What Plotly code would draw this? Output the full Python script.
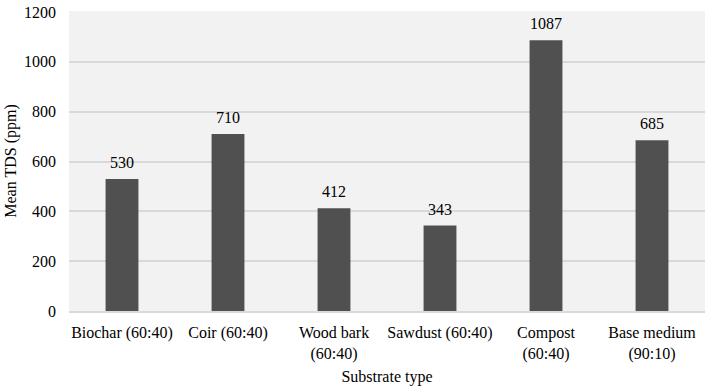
import plotly.graph_objects as go

categories = ["Biochar (60:40)", "Coir (60:40)", "Wood bark<br>(60:40)", "Sawdust (60:40)",
              "Compost<br>(60:40)", "Base medium<br>(90:10)"]
values = [530, 710, 412, 343, 1087, 685]
y_ticks = [0, 200, 400, 600, 800, 1000, 1200]

FONT = "Liberation Serif"

fig = go.Figure()
fig.add_trace(go.Bar(
    x=categories, y=values,
    marker=dict(color="#505050", line=dict(width=0)),
    width=0.31,
))
for c, v in zip(categories, values):
    fig.add_annotation(x=c, y=v, text=str(v), showarrow=False, yanchor="bottom",
                       yshift=6, font=dict(family=FONT, size=16, color="#000000"))

fig.update_layout(
    width=709, height=387,
    margin=dict(l=69, r=4, t=7, b=74),
    paper_bgcolor="#ffffff", plot_bgcolor="#f2f2f2",
    font=dict(family=FONT, size=16, color="#000000"),
    showlegend=False,
    xaxis=dict(title=dict(text="Substrate type", font=dict(family=FONT, size=16), standoff=9),
               showgrid=False, showline=True, linecolor="#d9d9d9", linewidth=2,
               ticks="", ticklabelstandoff=6, tickfont=dict(family=FONT, size=16)),
    yaxis=dict(title=dict(text="Mean TDS (ppm)", font=dict(family=FONT, size=16), standoff=3),
               range=[0, 1204], tickvals=y_ticks, showgrid=True,
               gridcolor="#d9d9d9", gridwidth=2, zeroline=False, showline=False,
               ticks="", ticklabelstandoff=12, ticklabeloverflow="allow",
               tickfont=dict(family=FONT, size=16)),
)
fig.write_html("out.html", config={"displayModeBar": False},
               post_script="document.body.style.margin='0';")
